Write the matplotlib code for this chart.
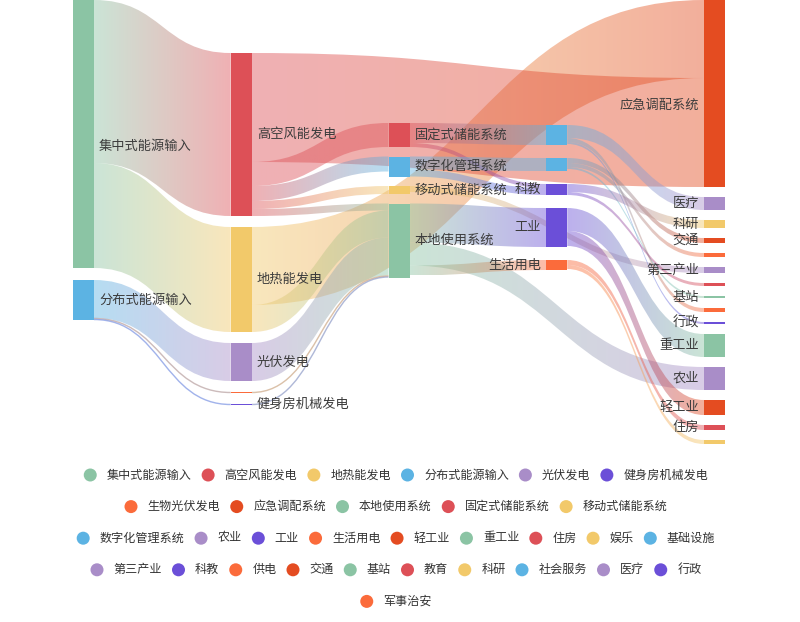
import numpy as np
import matplotlib
matplotlib.use('Agg')
import matplotlib.pyplot as plt
from matplotlib.path import Path
from matplotlib.patches import PathPatch, Rectangle, Circle
from matplotlib.colors import to_rgb

plt.rcParams['font.family'] = ['Noto Sans CJK SC', 'DejaVu Sans']

######  data  ###########################################################

node_names = ['集中式能源输入', '高空风能发电', '地热能发电', '分布式能源输入', '光伏发电',
              '健身房机械发电', '生物光伏发电', '应急调配系统', '本地使用系统', '固定式储能系统',
              '移动式储能系统', '数字化管理系统', '农业', '工业', '生活用电', '轻工业', '重工业',
              '住房', '娱乐', '基础设施', '第三产业', '科教', '供电', '交通', '基站', '教育',
              '科研', '社会服务', '医疗', '行政', '军事治安']

palette = ['#8bc4a4', '#dd5057', '#f2c96a', '#5cb3e3', '#a98dc8', '#6b4fd8', '#fb6b3b', '#e44c21']

# nodes of each column, top to bottom
columns = [
    ['集中式能源输入', '分布式能源输入'],
    ['高空风能发电', '地热能发电', '光伏发电', '生物光伏发电', '健身房机械发电'],
    ['固定式储能系统', '数字化管理系统', '移动式储能系统', '本地使用系统'],
    ['社会服务', '基础设施', '科教', '工业', '生活用电'],
    ['应急调配系统', '医疗', '科研', '交通', '供电', '第三产业', '教育', '基站', '军事治安',
     '行政', '重工业', '农业', '轻工业', '住房', '娱乐'],
]

# (source, target, value) ; list order = stacking order on both ends
links = [
    ('集中式能源输入', '高空风能发电', 163),
    ('集中式能源输入', '地热能发电', 105),
    ('分布式能源输入', '光伏发电', 38),
    ('分布式能源输入', '生物光伏发电', 1),
    ('分布式能源输入', '健身房机械发电', 1),
    ('地热能发电', '应急调配系统', 78),
    ('高空风能发电', '应急调配系统', 109),
    ('高空风能发电', '固定式储能系统', 24),
    ('高空风能发电', '数字化管理系统', 15),
    ('高空风能发电', '移动式储能系统', 8),
    ('高空风能发电', '本地使用系统', 7),
    ('地热能发电', '本地使用系统', 27),
    ('光伏发电', '本地使用系统', 38),
    ('生物光伏发电', '本地使用系统', 1),
    ('健身房机械发电', '本地使用系统', 1),
    ('固定式储能系统', '社会服务', 20),
    ('固定式储能系统', '科教', 4),
    ('数字化管理系统', '基础设施', 13),
    ('数字化管理系统', '科教', 7),
    ('移动式储能系统', '第三产业', 6),
    ('本地使用系统', '工业', 39),
    ('本地使用系统', '农业', 23),
    ('本地使用系统', '生活用电', 10),
    ('社会服务', '医疗', 13),
    ('社会服务', '军事治安', 4),
    ('社会服务', '行政', 2),
    ('基础设施', '交通', 5),
    ('基础设施', '供电', 4),
    ('基础设施', '基站', 2),
    ('科教', '科研', 8),
    ('科教', '教育', 3),
    ('工业', '重工业', 23),
    ('工业', '轻工业', 15),
    ('生活用电', '住房', 5),
    ('生活用电', '娱乐', 4),
]

hidden_labels = ['生物光伏发电', '基础设施', '社会服务', '供电', '教育', '军事治安', '娱乐']
legend_rows = [6, 5, 9, 10, 1]

######  layout  #########################################################

left, right = 73, 725
node_w = 21
ky = 1.0
col_top = [0, 53, 123, 125, 0]
col_gap = [12, 11, 9.5, 13, 10]
label_dy = {'集中式能源输入': 12, '应急调配系统': 12}   # labels sit a bit low on the top nodes

color_of = {n: palette[i % len(palette)] for i, n in enumerate(node_names)}

v_in = {n: 0 for n in node_names}
v_out = {n: 0 for n in node_names}
for s, t, v in links:
    v_out[s] += v
    v_in[t] += v
node_val = {n: max(v_in[n], v_out[n]) for n in node_names}

step = (right - left - node_w) / (len(columns) - 1)
xpos = {}
ypos = {}
depth = {}
for d, col in enumerate(columns):
    y = col_top[d]
    for n in col:
        xpos[n] = left + d * step
        ypos[n] = y
        depth[n] = d
        y += node_val[n] * ky + col_gap[d]

fig = plt.figure(figsize=(8, 6.22), dpi=100)
ax = fig.add_axes([0, 0, 1, 1])

######  links  ##########################################################

out_off = {n: 0.0 for n in node_names}
in_off = {n: 0.0 for n in node_names}
grad = np.linspace(0, 1, 128)

for s, t, v in links:
    h = v * ky
    x1 = xpos[s] + node_w
    x2 = xpos[t]
    sy = ypos[s] + out_off[s]
    ty = ypos[t] + in_off[t]
    out_off[s] += h
    in_off[t] += h
    xm = (x1 + x2) / 2.0
    c1 = np.array(to_rgb(color_of[s]))
    c2 = np.array(to_rgb(color_of[t]))
    if h < 2:
        p = Path([(x1, sy + h / 2), (xm, sy + h / 2), (xm, ty + h / 2), (x2, ty + h / 2)],
                 [Path.MOVETO, Path.CURVE4, Path.CURVE4, Path.CURVE4])
        ax.add_patch(PathPatch(p, fc='none', ec=(c1 + c2) / 2, lw=h * 0.72 + 0.3,
                               alpha=0.6, zorder=1))
        continue
    verts = [(x1, sy), (xm, sy), (xm, ty), (x2, ty), (x2, ty + h),
             (xm, ty + h), (xm, sy + h), (x1, sy + h), (x1, sy)]
    codes = [Path.MOVETO, Path.CURVE4, Path.CURVE4, Path.CURVE4, Path.LINETO,
             Path.CURVE4, Path.CURVE4, Path.CURVE4, Path.CLOSEPOLY]
    patch = PathPatch(Path(verts, codes), fc='none', ec='none', transform=ax.transData)
    img = np.zeros((1, len(grad), 4))
    img[0, :, :3] = c1 * (1 - grad)[:, None] + c2 * grad[:, None]
    img[0, :, 3] = 0.45
    im = ax.imshow(img, extent=(x1, x2, max(sy, ty) + h, min(sy, ty)),
                   aspect='auto', interpolation='bilinear', zorder=1)
    im.set_clip_path(patch)

######  nodes + labels  #################################################

for n in node_names:
    if n not in ypos:
        continue
    h = max(node_val[n] * ky, 1.2)
    ax.add_patch(Rectangle((xpos[n], ypos[n]), node_w, h, color=color_of[n], lw=0, zorder=3))
    if n in hidden_labels:
        continue
    yc = ypos[n] + h / 2 + label_dy.get(n, 0)
    if depth[n] < 3:
        ax.text(xpos[n] + node_w + 5, yc, n, ha='left', va='center', fontsize=9.5,
                color='#3c3c3c', zorder=5)
    else:
        ax.text(xpos[n] - 5, yc, n, ha='right', va='center', fontsize=9.5,
                color='#3c3c3c', zorder=5)

######  legend  #########################################################

renderer = fig.canvas.get_renderer()
r = 6.5
k = 0
for i, cnt in enumerate(legend_rows):
    items = node_names[k:k + cnt]
    k += cnt
    texts = []
    widths = []
    for n in items:
        tt = ax.text(0, 0, n, fontsize=8.7, color='#333333', ha='left', va='center')
        widths.append(tt.get_window_extent(renderer).width)
        texts.append(tt)
    total = sum(2 * r + 10 + w for w in widths) + 10 * (cnt - 1)
    x = 396 - total / 2.0
    yrow = 475 + i * 31.6
    for n, tt, w in zip(items, texts, widths):
        ax.add_patch(Circle((x + r, yrow), r, color=color_of[n], lw=0))
        tt.set_position((x + 2 * r + 10, yrow))
        x += 2 * r + 10 + w + 10

ax.set_xlim(0, 800)
ax.set_ylim(622, 0)
ax.axis('off')

fig.savefig('out.png', dpi=100, facecolor='white')
